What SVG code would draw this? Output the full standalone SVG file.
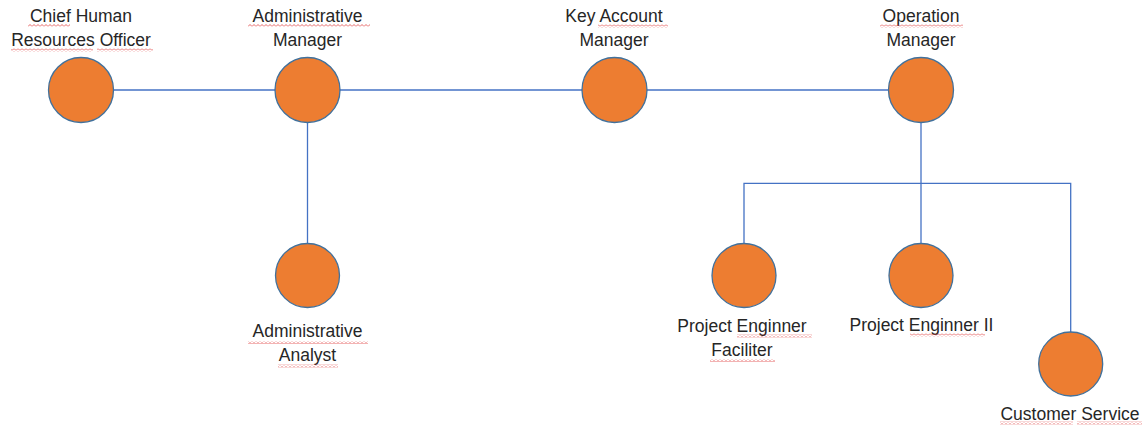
<svg xmlns="http://www.w3.org/2000/svg" width="1147" height="429" viewBox="0 0 1147 429">
<style>
.node{fill:#ED7D31;stroke:#41719C;stroke-width:1.3}
.lbl{font-family:"Liberation Sans",Arial,sans-serif;font-size:17.5px;fill:#262626;text-anchor:middle}
.conn{stroke:#4472C4;stroke-width:1.3;fill:none}
.sq{fill:url(#squig)}
</style>
<defs>
<pattern id="squig" x="0" y="0" width="4" height="3" patternUnits="userSpaceOnUse">
<path d="M0 2.5 L2 0.5 L4 2.5" stroke="#E04040" stroke-width="0.8" fill="none"/>
</pattern>
</defs>
<rect width="1147" height="429" fill="#FFFFFF"/>
<g id="connectors">
<line class="conn" x1="81" y1="90" x2="921" y2="90"/>
<line class="conn" x1="307.5" y1="90" x2="307.5" y2="244"/>
<line class="conn" x1="921" y1="90" x2="921" y2="244"/>
<polyline class="conn" points="744,244 744,183.3 1070.7,183.3 1070.7,332"/>
</g>
<g id="chro">
<circle class="node" cx="81" cy="90" r="32.5"/>
<text class="lbl" x="81" y="22">Chief Human</text>
<text class="lbl" x="81" y="46">Resources Officer</text>
<rect class="sq" x="28" y="24" width="42" height="3"/>
<rect class="sq" x="11" y="48.5" width="82" height="3"/>
<rect class="sq" x="97" y="48.5" width="56" height="3"/>
</g>
<g id="admin-manager">
<circle class="node" cx="307.5" cy="90" r="32.5"/>
<text class="lbl" x="307.5" y="22">Administrative</text>
<text class="lbl" x="307.5" y="46">Manager</text>
<rect class="sq" x="248" y="24" width="122" height="3"/>
</g>
<g id="key-account-manager">
<circle class="node" cx="614.5" cy="90" r="32.5"/>
<text class="lbl" x="614" y="22">Key Account</text>
<text class="lbl" x="614" y="46">Manager</text>
<rect class="sq" x="598" y="24.5" width="70" height="3"/>
</g>
<g id="operation-manager">
<circle class="node" cx="921" cy="90" r="32.5"/>
<text class="lbl" x="921" y="22">Operation</text>
<text class="lbl" x="921" y="46">Manager</text>
<rect class="sq" x="880" y="24.5" width="83" height="3"/>
</g>
<g id="admin-analyst">
<circle class="node" cx="307.5" cy="275.5" r="32"/>
<text class="lbl" x="307.5" y="337">Administrative</text>
<text class="lbl" x="307.5" y="361">Analyst</text>
<rect class="sq" x="248" y="341" width="120" height="3"/>
<rect class="sq" x="278" y="364.5" width="60" height="3"/>
</g>
<g id="project-engineer-facilitator">
<circle class="node" cx="744" cy="275.5" r="32"/>
<text class="lbl" x="742" y="332">Project Enginner</text>
<text class="lbl" x="742" y="356">Faciliter</text>
<rect class="sq" x="737" y="334.5" width="75" height="3"/>
<rect class="sq" x="710" y="359" width="65" height="3"/>
</g>
<g id="project-engineer-ii">
<circle class="node" cx="921" cy="275.5" r="32"/>
<text class="lbl" x="921.5" y="331">Project Enginner II</text>
<rect class="sq" x="910" y="333.5" width="75" height="3"/>
</g>
<g id="customer-service">
<circle class="node" cx="1070.7" cy="364" r="32"/>
<text class="lbl" x="1070" y="420">Customer Service</text>
<rect class="sq" x="1000" y="421.5" width="73" height="3"/>
<rect class="sq" x="1077" y="421.5" width="65" height="3"/>
</g>
</svg>
